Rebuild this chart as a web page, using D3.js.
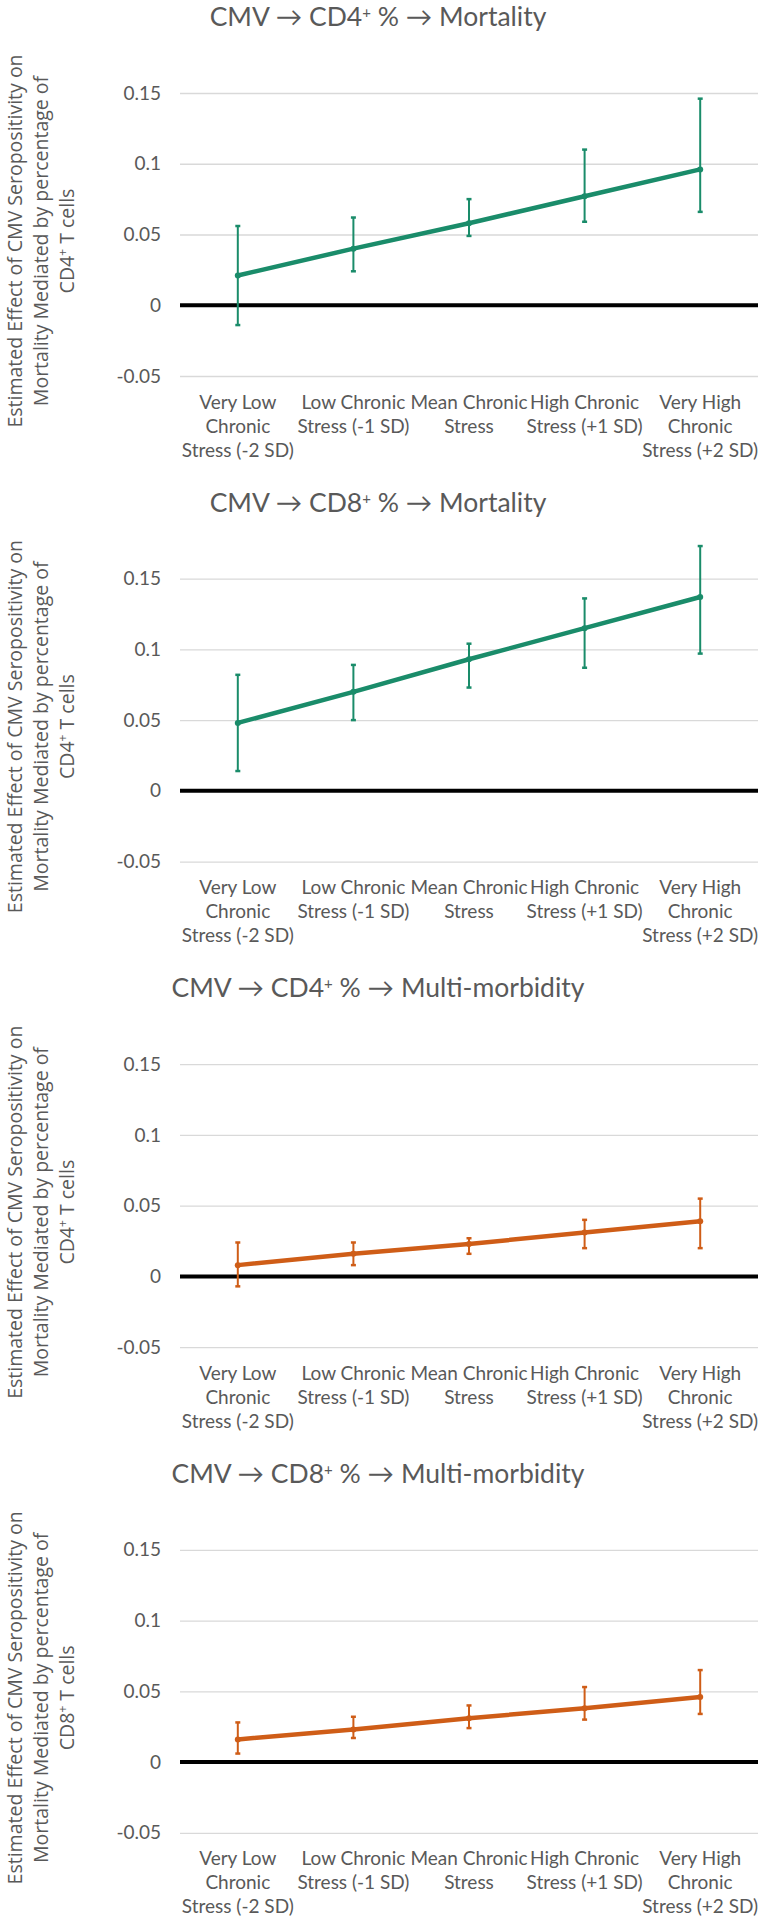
<!DOCTYPE html>
<html>
<head>
<meta charset="utf-8">
<script src="https://cdn.jsdelivr.net/npm/d3@7"></script>
<style>
  html, body { margin: 0; padding: 0; background: #fff; }
  svg { display: block; }
</style>
</head>
<body>
<div id="chart"></div>
<script>
// ---------- DATA ----------
const categories = [
  ["Very Low", "Chronic", "Stress (-2 SD)"],
  ["Low Chronic", "Stress (-1 SD)"],
  ["Mean Chronic", "Stress"],
  ["High Chronic", "Stress (+1 SD)"],
  ["Very High", "Chronic", "Stress (+2 SD)"]
];
const tickValues = [-0.05, 0, 0.05, 0.1, 0.15];
const tickLabels = ["-0.05", "0", "0.05", "0.1", "0.15"];

const panelTitles = [
  "CMV → CD4⁺ % → Mortality",
  "CMV → CD8⁺ % → Mortality",
  "CMV → CD4⁺ % → Multi-morbidity",
  "CMV → CD8⁺ % → Multi-morbidity"
];
const yTitleLines = [
  ["Estimated Effect of CMV Seropositivity on", "Mortality Mediated by percentage of", "CD4⁺ T cells"],
  ["Estimated Effect of CMV Seropositivity on", "Mortality Mediated by percentage of", "CD4⁺ T cells"],
  ["Estimated Effect of CMV Seropositivity on", "Mortality Mediated by percentage of", "CD4⁺ T cells"],
  ["Estimated Effect of CMV Seropositivity on", "Mortality Mediated by percentage of", "CD8⁺ T cells"]
];

const cd4MortalityEst  = [0.021, 0.040, 0.058, 0.077, 0.096];
const cd4MortalityLow  = [-0.014, 0.024, 0.049, 0.059, 0.066];
const cd4MortalityHigh = [0.056, 0.062, 0.075, 0.110, 0.146];

const cd8MortalityEst  = [0.048, 0.070, 0.093, 0.115, 0.137];
const cd8MortalityLow  = [0.014, 0.050, 0.073, 0.087, 0.097];
const cd8MortalityHigh = [0.082, 0.089, 0.104, 0.136, 0.173];

const cd4MultiEst  = [0.008, 0.016, 0.023, 0.031, 0.039];
const cd4MultiLow  = [-0.007, 0.008, 0.016, 0.020, 0.020];
const cd4MultiHigh = [0.024, 0.024, 0.027, 0.040, 0.055];

const cd8MultiEst  = [0.016, 0.023, 0.031, 0.038, 0.046];
const cd8MultiLow  = [0.006, 0.017, 0.024, 0.030, 0.034];
const cd8MultiHigh = [0.028, 0.032, 0.040, 0.053, 0.065];

const seriesColors = ["#1a8c6a", "#1a8c6a", "#cf5d17", "#cf5d17"];

// ---------- LAYOUT ----------
const W = 763, H = 1925;
const panelStep = 485.6;
const plotLeft = 180, plotRight = 758;
const gridTop = 93, gridBottom = 376;
const textColor = "#595959";
const fontMain = "Lato, 'Open Sans', sans-serif";
const fontYTitle = "'Open Sans', 'Noto Sans', sans-serif";

const panels = [
  {est: cd4MortalityEst, low: cd4MortalityLow, high: cd4MortalityHigh},
  {est: cd8MortalityEst, low: cd8MortalityLow, high: cd8MortalityHigh},
  {est: cd4MultiEst, low: cd4MultiLow, high: cd4MultiHigh},
  {est: cd8MultiEst, low: cd8MultiLow, high: cd8MultiHigh}
];

const svg = d3.select("#chart").append("svg")
  .attr("width", W).attr("height", H)
  .attr("viewBox", `0 0 ${W} ${H}`);

// Renders "⁺" as a raised small "+" using tspans (px-based shifts)
function addSuperscriptText(sel, str, supSize, shift) {
  const parts = str.split("⁺");
  let pendingDy = 0;
  parts.forEach((p, i) => {
    if (p.length) {
      const ts = sel.append("tspan").text(p);
      if (pendingDy) ts.attr("dy", pendingDy);
      pendingDy = 0;
    }
    if (i < parts.length - 1) {
      sel.append("tspan").attr("font-size", supSize).attr("dy", -shift).text("+");
      pendingDy = shift;
    }
  });
}

const x = d3.scaleBand()
  .domain(d3.range(categories.length))
  .range([plotLeft, plotRight])
  .padding(0);

const y = d3.scaleLinear()
  .domain([-0.05, 0.15])
  .range([gridBottom, gridTop]);

panels.forEach((pd, pi) => {
  const g = svg.append("g").attr("transform", `translate(0,${pi * panelStep})`);
  const color = seriesColors[pi];

  // Title
  const t = g.append("text")
    .attr("x", 378).attr("y", 26)
    .attr("text-anchor", "middle")
    .attr("font-family", fontMain)
    .attr("font-size", 26.5)
    .attr("fill", textColor);
  addSuperscriptText(t, panelTitles[pi], 15, 8);

  // Y gridlines + tick labels via axis
  const yAxis = d3.axisLeft(y)
    .tickValues(tickValues)
    .tickFormat((d, i) => tickLabels[i])
    .tickSize(-(plotRight - plotLeft))
    .tickPadding(19);
  const ya = g.append("g")
    .attr("transform", `translate(${plotLeft},0)`)
    .call(yAxis);
  ya.select(".domain").remove();
  ya.selectAll(".tick line")
    .attr("stroke", d => d === 0 ? "none" : "#d9d9d9")
    .attr("stroke-width", 1.3);
  ya.selectAll(".tick text")
    .attr("font-family", fontMain)
    .attr("font-size", 19)
    .attr("fill", textColor);

  // zero line
  g.append("line")
    .attr("x1", plotLeft).attr("x2", plotRight)
    .attr("y1", y(0)).attr("y2", y(0))
    .attr("stroke", "#000").attr("stroke-width", 4);

  // X category labels
  const xl = g.append("g");
  categories.forEach((lines, ci) => {
    const tx = xl.append("text")
      .attr("x", x(ci) + x.bandwidth() / 2)
      .attr("y", 408.5)
      .attr("text-anchor", "middle")
      .attr("font-family", fontMain)
      .attr("font-size", 19)
      .attr("fill", textColor);
    lines.forEach((ln, li) => {
      tx.append("tspan")
        .attr("x", x(ci) + x.bandwidth() / 2)
        .attr("dy", li === 0 ? 0 : 24)
        .text(ln);
    });
  });

  // Y axis title (rotated)
  const yt = g.append("g").attr("transform", `translate(0,241)`);
  const baselinesX = [22, 48, 74];
  yTitleLines[pi].forEach((ln, li) => {
    const tt = yt.append("text")
      .attr("transform", `translate(${baselinesX[li]},0) rotate(-90)`)
      .attr("text-anchor", "middle")
      .attr("font-family", fontYTitle)
      .attr("font-size", 19.5)
      .attr("fill", textColor);
    addSuperscriptText(tt, ln, 12, 7);
  });

  const cx = i => x(i) + x.bandwidth() / 2;

  // Error bars
  const eb = g.append("g").attr("stroke", color);
  pd.est.forEach((v, i) => {
    eb.append("line")
      .attr("x1", cx(i)).attr("x2", cx(i))
      .attr("y1", y(pd.low[i])).attr("y2", y(pd.high[i]))
      .attr("stroke-width", 2);
    [pd.low[i], pd.high[i]].forEach(c => {
      eb.append("line")
        .attr("x1", cx(i) - 2.5).attr("x2", cx(i) + 2.5)
        .attr("y1", y(c)).attr("y2", y(c))
        .attr("stroke-width", 2.5);
    });
  });

  // Line
  const line = d3.line()
    .x((d, i) => cx(i))
    .y(d => y(d));
  g.append("path")
    .datum(pd.est)
    .attr("d", line)
    .attr("fill", "none")
    .attr("stroke", color)
    .attr("stroke-width", 4.5)
    .attr("stroke-linejoin", "round")
    .attr("stroke-linecap", "round");

  g.selectAll("circle.pt")
    .data(pd.est)
    .enter().append("circle")
    .attr("class", "pt")
    .attr("cx", (d, i) => cx(i))
    .attr("cy", d => y(d))
    .attr("r", 3)
    .attr("fill", color);
});
</script>
</body>
</html>
